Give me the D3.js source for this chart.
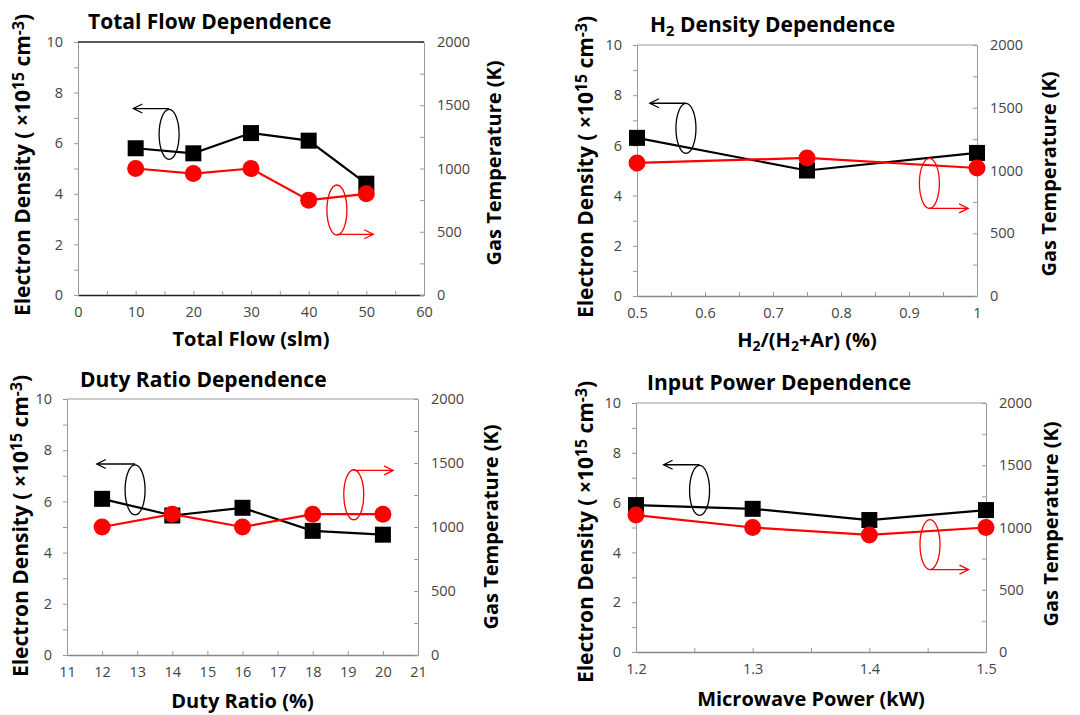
<!DOCTYPE html>
<html>
<head>
<meta charset="utf-8">
<script src="https://cdn.jsdelivr.net/npm/d3@7"></script>
<style>
  body { margin: 0; background: #fff; }
  svg { display: block; }
  .tick text { font-family: "Open Sans", sans-serif; font-size: 14.5px; fill: #444; }
  .lbl { font-family: "Open Sans", sans-serif; font-weight: bold; fill: #000; }
</style>
</head>
<body>
<svg id="chart" width="1080" height="715"></svg>
<script>
// data
var flowX = [10, 20, 30, 40, 50]
var flowNe = [5.8, 5.6, 6.4, 6.1, 4.4]
var flowTg = [1000, 960, 1000, 750, 800]

var h2X = [0.5, 0.75, 1.0]
var h2Ne = [6.3, 5.0, 5.7]
var h2Tg = [1060, 1100, 1020]

var dutyX = [12, 14, 16, 18, 20]
var dutyNe = [6.1, 5.45, 5.75, 4.85, 4.7]
var dutyTg = [1000, 1100, 1000, 1100, 1100]

var powerX = [1.2, 1.3, 1.4, 1.5]
var powerNe = [5.9, 5.75, 5.3, 5.7]
var powerTg = [1100, 1000, 940, 1000]

// axis ticks (every tick, labels on every other one where the picture has it)
var flowTicks = d3.range(0, 61, 5), flowLabels = d3.range(0, 61, 10)
var h2Ticks = d3.range(0, 11).map(i => 0.5 + i * 0.05), h2Labels = [0.5, 0.6, 0.7, 0.8, 0.9, 1]
var dutyTicks = d3.range(11, 22), dutyLabels = d3.range(11, 22)
var powerTicks = d3.range(0, 7).map(i => 1.2 + i * 0.05), powerLabels = [1.2, 1.3, 1.4, 1.5]
var neTicks = d3.range(0, 11), neLabels = [0, 2, 4, 6, 8, 10]
var tgTicks = d3.range(0, 2001, 250), tgLabels = [0, 500, 1000, 1500, 2000]

// the ellipse + arrow notes, in data units: [ellipse x, ellipse y, arrow y, arrow end x]
var flowNotes = [[15.8, 6.35, 7.37, 9.6], [44.9, 3.36, 2.4, 51.2]]
var h2Notes = [[0.572, 6.68, 7.68, 0.519], [0.930, 4.49, 3.49, 0.987]]
var dutyNotes = [[12.94, 6.45, 7.46, 11.85], [19.17, 6.26, 7.21, 20.29]]
var powerNotes = [[1.2545, 6.49, 7.52, 1.2237], [1.452, 4.31, 3.31, 1.485]]

const svg = d3.select('#chart')

svg.append('defs').selectAll('marker').data([['arrK', '#000'], ['arrR', '#f00']]).enter()
	.append('marker')
	.attr('id', d => d[0])
	.attr('viewBox', '-1 -6 12 12')
	.attr('refX', 9).attr('refY', 0)
	.attr('markerWidth', 12).attr('markerHeight', 12)
	.attr('markerUnits', 'userSpaceOnUse')
	.attr('orient', 'auto')
	.append('path')
	.attr('d', 'M0,-4.5L9,0L0,4.5')
	.attr('fill', 'none')
	.attr('stroke', d => d[1])
	.attr('stroke-width', 1.3)

function fmt(v) { return String(+v.toFixed(2)) }

function sub(t, main, s) {
	t.append('tspan').text(main)
	t.append('tspan').text(s).attr('font-size', '70%').attr('baseline-shift', '-25%')
}

function panel(p) {
	const g = svg.append('g')
	const x = d3.scaleLinear().domain(p.xDomain).range([p.left, p.right])
	const y = d3.scaleLinear().domain([0, 10]).range([p.bottom, p.top])
	const y2 = d3.scaleLinear().domain([0, 2000]).range([p.bottom, p.top])

	// axes
	const ax = g.append('g').attr('transform', `translate(0,${p.bottom})`)
		.call(d3.axisBottom(x).tickValues(p.xTicks).tickSizeInner(-4).tickSizeOuter(0).tickPadding(12)
			.tickFormat(d => p.xLabels.some(v => Math.abs(v - d) < 1e-6) ? fmt(d) : ''))
	const ay = g.append('g').attr('transform', `translate(${p.left},0)`)
		.call(d3.axisLeft(y).tickValues(neTicks).tickSizeInner(4).tickSizeOuter(0).tickPadding(11)
			.tickFormat(d => neLabels.includes(d) ? d : ''))
	const ay2 = g.append('g').attr('transform', `translate(${p.right},0)`)
		.call(d3.axisRight(y2).tickValues(tgTicks).tickSizeInner(-4).tickSizeOuter(0).tickPadding(13)
			.tickFormat(d => tgLabels.includes(d) ? d : ''))
	ax.select('.domain').attr('stroke', p.frameDark ? '#222' : '#888').attr('stroke-width', 1.5)
	ay.select('.domain').attr('stroke', '#999')
	ay2.select('.domain').attr('stroke', '#999')
	g.selectAll('.tick line').attr('stroke', '#999')
	g.selectAll('.tick text').attr('font-family', null).attr('font-size', null)
	g.append('line')
		.attr('x1', p.left).attr('x2', p.right).attr('y1', p.top).attr('y2', p.top)
		.attr('stroke', p.frameDark ? '#222' : '#999').attr('stroke-width', p.frameDark ? 1.5 : 1)

	// electron density, black squares
	const ne = p.xs.map((v, i) => [v, p.ne[i]])
	g.append('path').datum(ne)
		.attr('fill', 'none').attr('stroke', '#000').attr('stroke-width', 2.2)
		.attr('d', d3.line().x(d => x(d[0])).y(d => y(d[1])))
	g.append('g').selectAll('rect').data(ne).enter().append('rect')
		.attr('x', d => x(d[0]) - 8).attr('y', d => y(d[1]) - 8)
		.attr('width', 16).attr('height', 16).attr('fill', '#000')

	// gas temperature, red circles
	const tg = p.xs.map((v, i) => [v, p.tg[i]])
	g.append('path').datum(tg)
		.attr('fill', 'none').attr('stroke', '#f00').attr('stroke-width', 2.2)
		.attr('d', d3.line().x(d => x(d[0])).y(d => y2(d[1])))
	g.append('g').selectAll('circle').data(tg).enter().append('circle')
		.attr('cx', d => x(d[0])).attr('cy', d => y2(d[1])).attr('r', 8.5).attr('fill', '#f00')

	// notes
	p.notes.forEach((n, i) => {
		const c = i == 0 ? '#000' : '#f00'
		g.append('ellipse')
			.attr('cx', x(n[0])).attr('cy', y(n[1])).attr('rx', 10).attr('ry', 25)
			.attr('fill', 'none').attr('stroke', c).attr('stroke-width', 1.3)
		g.append('line')
			.attr('x1', x(n[0])).attr('y1', y(n[2])).attr('x2', x(n[3])).attr('y2', y(n[2]))
			.attr('stroke', c).attr('stroke-width', 1.3)
			.attr('marker-end', `url(#${i == 0 ? 'arrK' : 'arrR'})`)
	})

	// titles
	const t = g.append('text').attr('class', 'lbl').attr('x', p.titleX).attr('y', p.titleY).attr('font-size', 21)
	if (p.title2) { sub(t, 'H', '2'); t.append('tspan').text(' Density Dependence') }
	else t.text(p.title)

	const xt = g.append('text').attr('class', 'lbl').attr('text-anchor', 'middle')
		.attr('x', (p.left + p.right) / 2 + p.xtDx).attr('y', p.xtY).attr('font-size', 20)
	if (p.xTitleH2) {
		sub(xt, 'H', '2'); xt.append('tspan').text('/(')
		sub(xt, 'H', '2'); xt.append('tspan').text('+Ar) (%)')
	} else xt.text(p.xTitle)

	const yl = g.append('text').attr('class', 'lbl').attr('text-anchor', 'middle').attr('font-size', 21)
		.attr('transform', `translate(${p.ylX},${p.ylY}) rotate(-90)`)
	yl.append('tspan').text('Electron Density ( ×10')
	yl.append('tspan').text('15').attr('font-size', '75%').attr('baseline-shift', '40%')
	yl.append('tspan').text(' cm')
	yl.append('tspan').text('-3').attr('font-size', '75%').attr('baseline-shift', '40%')
	yl.append('tspan').text(')')

	g.append('text').attr('class', 'lbl').attr('text-anchor', 'middle').attr('font-size', 20)
		.attr('transform', `translate(${p.yrX},${p.yrY}) rotate(-90)`)
		.text('Gas Temperature (K)')
}

panel({left: 78, right: 424, top: 42, bottom: 295, xDomain: [0, 60], xTicks: flowTicks, xLabels: flowLabels,
	xs: flowX, ne: flowNe, tg: flowTg, notes: flowNotes, frameDark: true,
	title: 'Total Flow Dependence', titleX: 88, titleY: 29, xTitle: 'Total Flow (slm)', xtDx: 0, xtY: 346,
	ylX: 30, ylY: 165, yrX: 501, yrY: 163})
panel({left: 637, right: 977, top: 45, bottom: 296, xDomain: [0.5, 1], xTicks: h2Ticks, xLabels: h2Labels,
	xs: h2X, ne: h2Ne, tg: h2Tg, notes: h2Notes, frameDark: false,
	title2: true, titleX: 650, titleY: 32, xTitleH2: true, xtDx: 0, xtY: 347,
	ylX: 593, ylY: 167, yrX: 1056, yrY: 174})
panel({left: 67, right: 418, top: 399, bottom: 655, xDomain: [11, 21], xTicks: dutyTicks, xLabels: dutyLabels,
	xs: dutyX, ne: dutyNe, tg: dutyTg, notes: dutyNotes, frameDark: false,
	title: 'Duty Ratio Dependence', titleX: 80, titleY: 387, xTitle: 'Duty Ratio (%)', xtDx: 0, xtY: 708,
	ylX: 28, ylY: 526, yrX: 498, yrY: 527})
panel({left: 636, right: 986, top: 403, bottom: 652, xDomain: [1.2, 1.5], xTicks: powerTicks, xLabels: powerLabels,
	xs: powerX, ne: powerNe, tg: powerTg, notes: powerNotes, frameDark: false,
	title: 'Input Power Dependence', titleX: 647, titleY: 390, xTitle: 'Microwave Power (kW)', xtDx: 0, xtY: 706,
	ylX: 593, ylY: 532, yrX: 1058, yrY: 524})
</script>
</body>
</html>
